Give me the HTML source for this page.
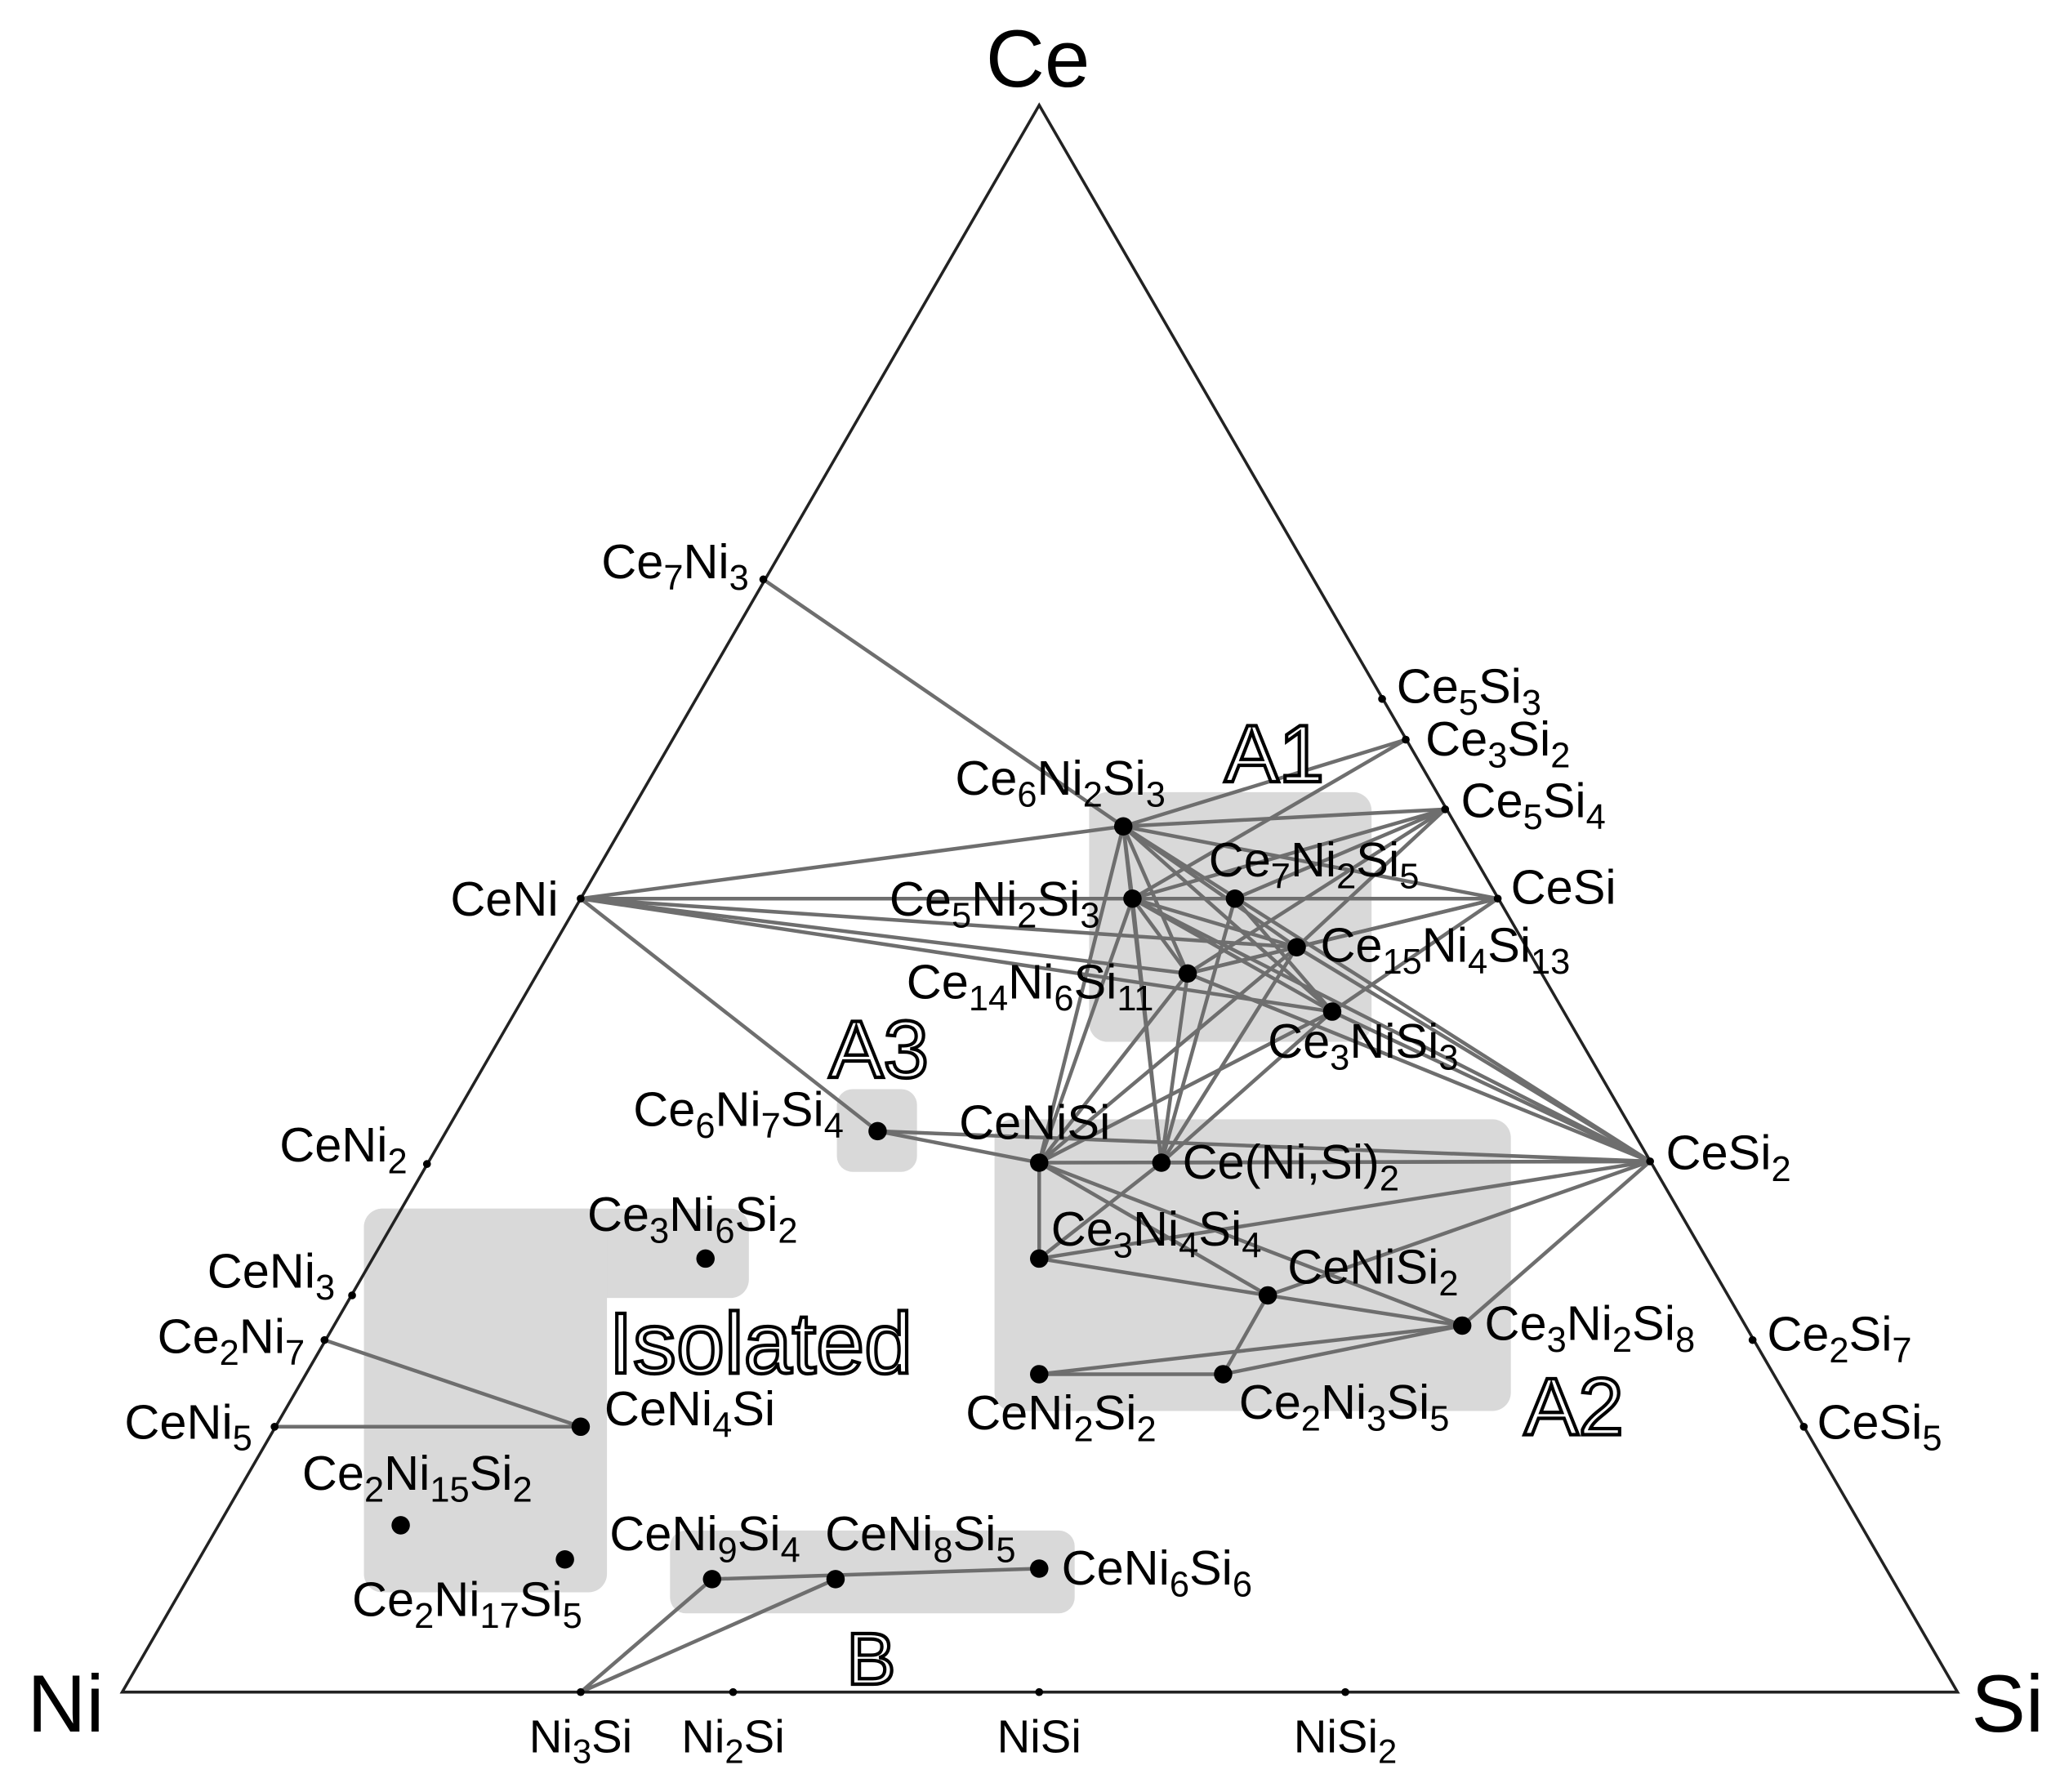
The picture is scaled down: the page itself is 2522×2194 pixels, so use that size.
<!DOCTYPE html>
<html><head><meta charset="utf-8"><style>html,body{margin:0;padding:0;background:#fff}svg{display:block}</style></head>
<body>
<svg xmlns="http://www.w3.org/2000/svg" width="2522" height="2194" viewBox="0 0 1568 1364" font-family="Liberation Sans, sans-serif">
<rect width="1568" height="1364" fill="#fff"/>
<g fill="#d9d9d9">
<rect x="829" y="603" width="215" height="190" rx="14"/>
<rect x="637" y="829" width="61" height="63" rx="12"/>
<rect x="757" y="852" width="393" height="222" rx="14"/>
<rect x="277" y="920" width="293" height="68" rx="14"/>
<rect x="277" y="920" width="185" height="292" rx="14"/>
<rect x="510" y="1165" width="308" height="63" rx="12"/>
</g>
<g stroke="#6e6e6e" stroke-width="2.8" fill="none">
<line x1="581" y1="441" x2="855" y2="629"/>
<line x1="442" y1="684" x2="855" y2="629"/>
<line x1="442" y1="684" x2="1140" y2="684"/>
<line x1="442" y1="684" x2="987" y2="721"/>
<line x1="442" y1="684" x2="904" y2="741"/>
<line x1="442" y1="684" x2="1014" y2="770"/>
<line x1="442" y1="684" x2="668" y2="861"/>
<line x1="855" y1="629" x2="1070" y2="563"/>
<line x1="855" y1="629" x2="1100" y2="616"/>
<line x1="855" y1="629" x2="1140" y2="684"/>
<line x1="855" y1="629" x2="987" y2="721"/>
<line x1="855" y1="629" x2="1014" y2="770"/>
<line x1="855" y1="629" x2="1256" y2="884"/>
<line x1="855" y1="629" x2="862" y2="684"/>
<line x1="855" y1="629" x2="904" y2="741"/>
<line x1="855" y1="629" x2="791" y2="885"/>
<line x1="855" y1="629" x2="884" y2="885"/>
<line x1="862" y1="684" x2="1070" y2="563"/>
<line x1="862" y1="684" x2="1100" y2="616"/>
<line x1="862" y1="684" x2="987" y2="721"/>
<line x1="862" y1="684" x2="1014" y2="770"/>
<line x1="862" y1="684" x2="1256" y2="884"/>
<line x1="862" y1="684" x2="904" y2="741"/>
<line x1="862" y1="684" x2="791" y2="885"/>
<line x1="862" y1="684" x2="884" y2="885"/>
<line x1="940" y1="684" x2="1100" y2="616"/>
<line x1="940" y1="684" x2="1014" y2="770"/>
<line x1="940" y1="684" x2="884" y2="885"/>
<line x1="987" y1="721" x2="1100" y2="616"/>
<line x1="987" y1="721" x2="1140" y2="684"/>
<line x1="987" y1="721" x2="1256" y2="884"/>
<line x1="987" y1="721" x2="904" y2="741"/>
<line x1="987" y1="721" x2="791" y2="885"/>
<line x1="987" y1="721" x2="884" y2="885"/>
<line x1="904" y1="741" x2="1100" y2="616"/>
<line x1="904" y1="741" x2="1140" y2="684"/>
<line x1="904" y1="741" x2="1256" y2="884"/>
<line x1="904" y1="741" x2="791" y2="885"/>
<line x1="904" y1="741" x2="884" y2="885"/>
<line x1="1014" y1="770" x2="1140" y2="684"/>
<line x1="1014" y1="770" x2="1256" y2="884"/>
<line x1="1014" y1="770" x2="791" y2="885"/>
<line x1="1014" y1="770" x2="884" y2="885"/>
<line x1="668" y1="861" x2="791" y2="885"/>
<line x1="668" y1="861" x2="1256" y2="884"/>
<line x1="791" y1="885" x2="1256" y2="884"/>
<line x1="791" y1="885" x2="791" y2="958"/>
<line x1="791" y1="885" x2="965" y2="986"/>
<line x1="791" y1="885" x2="1113" y2="1009"/>
<line x1="884" y1="885" x2="1256" y2="884"/>
<line x1="884" y1="885" x2="791" y2="958"/>
<line x1="791" y1="958" x2="1256" y2="884"/>
<line x1="791" y1="958" x2="965" y2="986"/>
<line x1="965" y1="986" x2="1256" y2="884"/>
<line x1="965" y1="986" x2="1113" y2="1009"/>
<line x1="965" y1="986" x2="931" y2="1046"/>
<line x1="1113" y1="1009" x2="1256" y2="884"/>
<line x1="1113" y1="1009" x2="791" y2="1046"/>
<line x1="1113" y1="1009" x2="931" y2="1046"/>
<line x1="791" y1="1046" x2="931" y2="1046"/>
<line x1="247" y1="1020" x2="442" y2="1086"/>
<line x1="209" y1="1086" x2="442" y2="1086"/>
<line x1="542" y1="1202" x2="791" y2="1194"/>
<line x1="442" y1="1288" x2="542" y2="1202"/>
<line x1="442" y1="1288" x2="636" y2="1202"/>
</g>
<polygon points="791,80 93,1288 1490,1288" fill="none" stroke="#222" stroke-width="2.2"/>
<g fill="#000">
<circle cx="581" cy="441" r="3"/><circle cx="442" cy="684" r="3"/><circle cx="325" cy="886" r="3"/>
<circle cx="268" cy="986" r="3"/><circle cx="247" cy="1020" r="3"/><circle cx="209" cy="1086" r="3"/>
<circle cx="1052" cy="532" r="3"/><circle cx="1070" cy="563" r="3"/><circle cx="1100" cy="616" r="3"/>
<circle cx="1140" cy="684" r="3"/><circle cx="1256" cy="884" r="3"/><circle cx="1334" cy="1020" r="3"/>
<circle cx="1373" cy="1086" r="3"/><circle cx="442" cy="1288" r="3"/><circle cx="558" cy="1288" r="3"/>
<circle cx="791" cy="1288" r="3"/><circle cx="1024" cy="1288" r="3"/>
<circle cx="855" cy="629" r="7"/><circle cx="862" cy="684" r="7"/><circle cx="940" cy="684" r="7"/>
<circle cx="987" cy="721" r="7"/><circle cx="904" cy="741" r="7"/><circle cx="1014" cy="770" r="7"/>
<circle cx="668" cy="861" r="7"/><circle cx="791" cy="885" r="7"/><circle cx="884" cy="885" r="7"/>
<circle cx="791" cy="958" r="7"/><circle cx="965" cy="986" r="7"/><circle cx="1113" cy="1009" r="7"/>
<circle cx="791" cy="1046" r="7"/><circle cx="931" cy="1046" r="7"/><circle cx="537" cy="958" r="7"/>
<circle cx="442" cy="1086" r="7"/><circle cx="305" cy="1161" r="7"/><circle cx="430" cy="1187" r="7"/>
<circle cx="542" cy="1202" r="7"/><circle cx="636" cy="1202" r="7"/><circle cx="791" cy="1194" r="7"/>
</g>
<g font-size="62" fill="#000">
<text x="790" y="66" text-anchor="middle">Ce</text>
<text x="50" y="1318" text-anchor="middle">Ni</text>
<text x="1528" y="1318" text-anchor="middle">Si</text>
</g>
<g font-size="37" fill="#000">
<text x="570" y="440" text-anchor="end">Ce<tspan font-size="27" dy="9">7</tspan><tspan dy="-9">Ni</tspan><tspan font-size="27" dy="9">3</tspan></text>
<text x="425" y="697" text-anchor="end">CeNi</text>
<text x="310" y="884" text-anchor="end">CeNi<tspan font-size="27" dy="9">2</tspan></text>
<text x="255" y="980" text-anchor="end">CeNi<tspan font-size="27" dy="9">3</tspan></text>
<text x="232" y="1030" text-anchor="end">Ce<tspan font-size="27" dy="9">2</tspan><tspan dy="-9">Ni</tspan><tspan font-size="27" dy="9">7</tspan></text>
<text x="192" y="1095" text-anchor="end">CeNi<tspan font-size="27" dy="9">5</tspan></text>
<text x="1063" y="535">Ce<tspan font-size="27" dy="9">5</tspan><tspan dy="-9">Si</tspan><tspan font-size="27" dy="9">3</tspan></text>
<text x="1085" y="575">Ce<tspan font-size="27" dy="9">3</tspan><tspan dy="-9">Si</tspan><tspan font-size="27" dy="9">2</tspan></text>
<text x="1112" y="622">Ce<tspan font-size="27" dy="9">5</tspan><tspan dy="-9">Si</tspan><tspan font-size="27" dy="9">4</tspan></text>
<text x="1150" y="688">CeSi</text>
<text x="1268" y="890">CeSi<tspan font-size="27" dy="9">2</tspan></text>
<text x="1345" y="1028">Ce<tspan font-size="27" dy="9">2</tspan><tspan dy="-9">Si</tspan><tspan font-size="27" dy="9">7</tspan></text>
<text x="1383" y="1095">CeSi<tspan font-size="27" dy="9">5</tspan></text>
<text x="727" y="605">Ce<tspan font-size="27" dy="9">6</tspan><tspan dy="-9">Ni</tspan><tspan font-size="27" dy="9">2</tspan><tspan dy="-9">Si</tspan><tspan font-size="27" dy="9">3</tspan></text>
<text x="677" y="697">Ce<tspan font-size="27" dy="9">5</tspan><tspan dy="-9">Ni</tspan><tspan font-size="27" dy="9">2</tspan><tspan dy="-9">Si</tspan><tspan font-size="27" dy="9">3</tspan></text>
<text x="920" y="667">Ce<tspan font-size="27" dy="9">7</tspan><tspan dy="-9">Ni</tspan><tspan font-size="27" dy="9">2</tspan><tspan dy="-9">Si</tspan><tspan font-size="27" dy="9">5</tspan></text>
<text x="1005" y="732">Ce<tspan font-size="27" dy="9">15</tspan><tspan dy="-9">Ni</tspan><tspan font-size="27" dy="9">4</tspan><tspan dy="-9">Si</tspan><tspan font-size="27" dy="9">13</tspan></text>
<text x="690" y="760">Ce<tspan font-size="27" dy="9">14</tspan><tspan dy="-9">Ni</tspan><tspan font-size="27" dy="9">6</tspan><tspan dy="-9">Si</tspan><tspan font-size="27" dy="9">11</tspan></text>
<text x="965" y="805">Ce<tspan font-size="27" dy="9">3</tspan><tspan dy="-9">NiSi</tspan><tspan font-size="27" dy="9">3</tspan></text>
<text x="482" y="857">Ce<tspan font-size="27" dy="9">6</tspan><tspan dy="-9">Ni</tspan><tspan font-size="27" dy="9">7</tspan><tspan dy="-9">Si</tspan><tspan font-size="27" dy="9">4</tspan></text>
<text x="730" y="867">CeNiSi</text>
<text x="900" y="897">Ce(Ni,Si)<tspan font-size="27" dy="9">2</tspan></text>
<text x="800" y="948">Ce<tspan font-size="27" dy="9">3</tspan><tspan dy="-9">Ni</tspan><tspan font-size="27" dy="9">4</tspan><tspan dy="-9">Si</tspan><tspan font-size="27" dy="9">4</tspan></text>
<text x="980" y="977">CeNiSi<tspan font-size="27" dy="9">2</tspan></text>
<text x="1130" y="1020">Ce<tspan font-size="27" dy="9">3</tspan><tspan dy="-9">Ni</tspan><tspan font-size="27" dy="9">2</tspan><tspan dy="-9">Si</tspan><tspan font-size="27" dy="9">8</tspan></text>
<text x="735" y="1088">CeNi<tspan font-size="27" dy="9">2</tspan><tspan dy="-9">Si</tspan><tspan font-size="27" dy="9">2</tspan></text>
<text x="943" y="1080">Ce<tspan font-size="27" dy="9">2</tspan><tspan dy="-9">Ni</tspan><tspan font-size="27" dy="9">3</tspan><tspan dy="-9">Si</tspan><tspan font-size="27" dy="9">5</tspan></text>
<text x="447" y="937">Ce<tspan font-size="27" dy="9">3</tspan><tspan dy="-9">Ni</tspan><tspan font-size="27" dy="9">6</tspan><tspan dy="-9">Si</tspan><tspan font-size="27" dy="9">2</tspan></text>
<text x="460" y="1085">CeNi<tspan font-size="27" dy="9">4</tspan><tspan dy="-9">Si</tspan></text>
<text x="230" y="1134">Ce<tspan font-size="27" dy="9">2</tspan><tspan dy="-9">Ni</tspan><tspan font-size="27" dy="9">15</tspan><tspan dy="-9">Si</tspan><tspan font-size="27" dy="9">2</tspan></text>
<text x="268" y="1230">Ce<tspan font-size="27" dy="9">2</tspan><tspan dy="-9">Ni</tspan><tspan font-size="27" dy="9">17</tspan><tspan dy="-9">Si</tspan><tspan font-size="27" dy="9">5</tspan></text>
<text x="464" y="1180">CeNi<tspan font-size="27" dy="9">9</tspan><tspan dy="-9">Si</tspan><tspan font-size="27" dy="9">4</tspan></text>
<text x="628" y="1180">CeNi<tspan font-size="27" dy="9">8</tspan><tspan dy="-9">Si</tspan><tspan font-size="27" dy="9">5</tspan></text>
<text x="808" y="1206">CeNi<tspan font-size="27" dy="9">6</tspan><tspan dy="-9">Si</tspan><tspan font-size="27" dy="9">6</tspan></text>
</g>
<g font-size="35" fill="#000" text-anchor="middle">
<text x="442" y="1334">Ni<tspan font-size="26" dy="8">3</tspan><tspan dy="-8">Si</tspan></text>
<text x="558" y="1334">Ni<tspan font-size="26" dy="8">2</tspan><tspan dy="-8">Si</tspan></text>
<text x="791" y="1334">NiSi</text>
<text x="1024" y="1334">NiSi<tspan font-size="26" dy="8">2</tspan></text>
</g>
<g fill="#fff" stroke="#000" stroke-width="2.6">
<text x="970" y="595" font-size="62" text-anchor="middle">A1</text>
<text x="669" y="820" font-size="62" text-anchor="middle">A3</text>
<text x="1198" y="1092" font-size="62" text-anchor="middle">A2</text>
<text x="663" y="1282" font-size="56" text-anchor="middle">B</text>
<text x="579" y="1045" font-size="66" text-anchor="middle">Isolated</text>
</g>
</svg>
</body></html>
